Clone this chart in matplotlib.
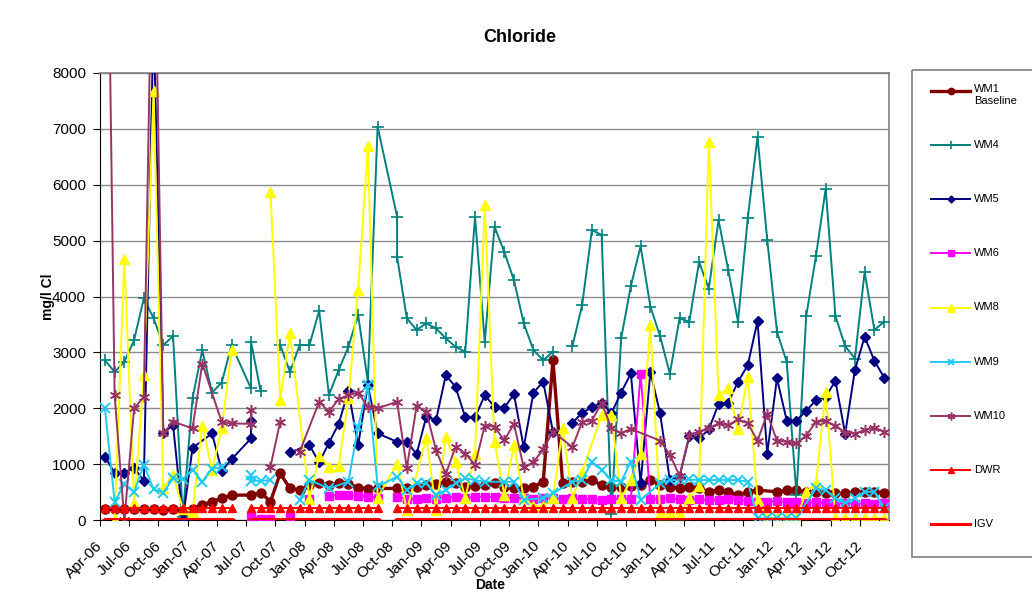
import numpy as np
import matplotlib
matplotlib.use("Agg")
import matplotlib.pyplot as plt
from matplotlib.patches import Rectangle

plt.rcParams['font.family'] = ['Liberation Sans', 'DejaVu Sans']

# None = no sample that month (line carries on), GAP = line break
GAP = np.nan

tick_labels = ['Apr-06', 'Jul-06', 'Oct-06', 'Jan-07', 'Apr-07', 'Jul-07', 'Oct-07',
               'Jan-08', 'Apr-08', 'Jul-08', 'Oct-08', 'Jan-09', 'Apr-09', 'Jul-09',
               'Oct-09', 'Jan-10', 'Apr-10', 'Jul-10', 'Oct-10', 'Jan-11', 'Apr-11',
               'Jul-11', 'Oct-11', 'Jan-12', 'Apr-12', 'Jul-12', 'Oct-12']

# monthly samples, index 0 = Apr-06 ... 80 = Dec-12
wm1 = [190, 190, 200, 190, 190, 190, 180, 190, 150, 200,
       270, 330, 390, 445, None, 445, 490, 330, 835, 565,
       535, 625, 665, 625, 665, 650, 580, 560, 565, None,
       565, 565, 595, 625, 640, 685, 655, 595, 610, 625,
       655, 595, 565, 565, 595, 685, 2860, 655, 685, 685,
       715, 625, 595, 595, 600, 620, 715, 625, 595, 565,
       595, 565, 505, 535, 505, 445, 505, 535, None, 505,
       535, 535, 505, 505, 475, 475, 475, 505, 505, 505,
       490]

wm4 = [2860, 2650, 2830, 3220, 3970, 3610, 3130, 3290, 60, 2180,
       3040, 2280, 2460, 3130, None, (2355, 3190), 2300, GAP, 3130, 2650,
       3130, 3130, 3745, 2240, 2680, 3100, 3670, 2475, 7040, None,
       (5430, 4710), 3610, 3400, 3520, 3430, 3250, 3100, 3010, 5430, 3190,
       5250, 4800, 4290, 3520, 3040, 2860, 3010, GAP, 3110, 3850,
       5190, 5100, 100, 3250, 4190, 4900, 3820, 3290, 2620, 3610,
       3550, 4620, 4140, 5370, 4470, 3550, 5400, 6860, 5010, 3370,
       2830, 450, 3650, 4720, 5930, 3650, 3110, 2890, 4440, 3400,
       3550]

wm5 = [1130, 845, 845, 935, 700, 9000, 1560, 1700, 0, 1290,
       None, 1550, 880, 1085, None, (1460, 1780), GAP, GAP, GAP, 1210,
       None, 1340, 1030, 1380, 1720, 2310, 1340, 2415, 1550, None,
       1400, 1400, 1180, 1850, 1790, 2590, 2385, 1835, 1835, 2235,
       2025, 2010, 2250, 1300, 2280, 2475, 1580, GAP, 1740, 1920,
       2015, 2100, 1910, 2280, 2625, 655, 2650, 1910, 715, 775,
       1500, 1460, 1620, 2075, 2100, 2475, 2770, 3560, 1190, 2535,
       1780, 1780, 1955, 2145, 2205, 2490, 1540, 2685, 3280, 2850,
       2550]

wm6 = [None, None, None, None, None, None, None, None, None, None,
       None, None, None, None, None, 80, 20, 20, GAP, 60,
       GAP, 380, GAP, 430, 450, 440, 430, 420, 400, GAP,
       420, 380, 380, 390, 380, 400, 420, 400, 410, 420,
       410, 390, 400, 390, 380, 390, 400, 380, 390, 370,
       380, 360, 370, 380, 380, 2620, 380, 380, 390, 370,
       360, 380, 350, 350, 380, 360, 340, 320, 330, 340,
       320, 330, 310, 320, 300, 300, 310, 290, 300, 290,
       300]

wm8 = [None, 0, 4680, 300, 2595, 7680, 565, 805, 200, 150,
       1690, 895, 1640, 3040, GAP, None, None, 5875, 2150, 3350,
       None, 380, 1150, 955, 970, 2175, 4125, 6690, 400, None,
       1010, 180, None, 1475, 180, 1490, 1045, 390, 1190, 5635,
       1400, 450, 1340, 390, 250, 250, 390, 1640, 390, 865,
       None, 1880, 1880, 390, 715, 1190, 3490, 100, 100, 100,
       390, 610, 6770, 2235, 2355, 1625, 2565, 360, 30, 30,
       30, 30, 505, 655, 2295, 30, 30, 30, 30, 30,
       30]

wm9 = [2000, 330, 640, 500, 990, 550, 490, 745, 735, 900,
       685, 920, 940, GAP, None, (805, 700), 700, 715, GAP, None,
       360, 715, None, 565, None, 685, 1670, 2415, 600, None,
       775, 535, 655, 655, 445, 535, 655, 745, 715, 685,
       None, 685, 685, 360, None, 390, 475, None, 685, 715,
       1045, 895, 715, 685, 1045, 360, None, 655, 715, 715,
       725, 715, 715, 715, 715, 715, 685, 30, 30, 30,
       30, 30, None, 565, 535, 390, 300, 390, 505, 505,
       210]

wm10 = [15000, 2235, 0, 2000, 2200, 12000, 1550, 1760, None, 1640,
        2800, None, 1750, 1730, None, (1720, 1970), GAP, 955, 1760, GAP,
        1220, None, 2115, 1940, 2160, 2235, 2280, 2025, 2000, None,
        2115, 930, 2040, 1940, 1250, 820, 1310, 1190, 985, 1690,
        1670, 1425, 1720, 940, 1035, 1265, 1580, None, 1305, 1760,
        1780, 2100, 1640, 1550, 1630, None, None, 1420, 1170, 790,
        1520, 1580, 1640, 1730, 1700, 1800, 1730, 1420, 1900, 1420,
        1400, 1370, 1510, 1760, 1770, 1690, 1565, 1545, 1610, 1655,
        1580]

dwr = [220, 220, 220, 220, 220, 220, 220, 220, 220, 220,
       220, 220, 220, 220, GAP, 220, 220, 220, 220, 220,
       220, 220, 220, 220, 220, 220, 220, 220, 220, GAP,
       220, 220, 220, 220, 220, 220, 220, 220, 220, 220,
       220, 220, 220, 220, 220, 220, 220, 220, 220, 220,
       220, 220, 220, 220, 220, 220, 220, 220, 220, 220,
       220, 220, 220, 220, 220, 220, 220, 220, 220, 220,
       220, 220, 220, 220, 220, 220, 220, 220, 220, 220,
       220]

igv = [25, 25, 25, 25, 25, 25, 25, 25, 25, 25,
       25, 25, 25, 25, GAP, 25, 25, 25, 25, 25,
       25, 25, 25, 25, 25, 25, 25, 25, 25, GAP,
       25, 25, 25, 25, 25, 25, 25, 25, 25, 25,
       25, 25, 25, 25, 25, 25, 25, 25, 25, 25,
       25, 25, 25, 25, 25, 25, 25, 25, 25, 25,
       25, 25, 25, 25, 25, 25, 25, 25, 25, 25,
       25, 25, 25, 25, 25, 25, 25, 25, 25, 25,
       25]


def series_xy(values):
    # samples sit mid-month
    xs, ys = [], []
    for i, v in enumerate(values):
        if v is None:
            continue
        for val in (v if isinstance(v, tuple) else (v,)):
            xs.append(i + 0.5)
            ys.append(val)
    return xs, ys


series = [
    ("WM1\nBaseline", wm1, dict(color='#800000', lw=2.4, marker='o', ms=6.5)),
    ("WM4", wm4, dict(color='#008080', lw=1.4, marker='+', ms=8, mew=1.2)),
    ("WM5", wm5, dict(color='#000080', lw=1.4, marker='D', ms=5)),
    ("WM6", wm6, dict(color='#FF00FF', lw=1.4, marker='s', ms=6)),
    ("WM8", wm8, dict(color='#FFFF00', lw=1.4, marker='^', ms=7.5)),
    ("WM9", wm9, dict(color='#1ECBF5', lw=1.4, marker='x', ms=6.5, mew=1.4)),
    ("WM10", wm10, dict(color='#993366', lw=1.4, marker=(6, 2, 0), ms=8, mew=1.1)),
    ("DWR", dwr, dict(color='#FF0000', lw=1.4, marker='^', ms=6)),
    ("IGV", igv, dict(color='#FF0000', lw=2.2, marker='_', ms=5)),
]

W, H = 1032, 607
fig = plt.figure(figsize=(W / 100, H / 100), dpi=100)
ax = fig.add_axes([100 / W, 1 - 520 / H, (889 - 100) / W, (520 - 73) / H])

for z, (name, vals, st) in enumerate(series):
    xs, ys = series_xy(vals)
    ax.plot(xs, ys, mec=st['color'], mfc=st['color'], zorder=3 + z, **st)

ax.set_xlim(0, 81)
ax.set_ylim(0, 8000)
ax.set_yticks(np.arange(0, 8001, 1000))
ax.set_xticks(np.arange(len(tick_labels)) * 3)
ax.set_xticklabels(tick_labels, rotation=45, ha='right', va='center',
                   rotation_mode='anchor', fontsize=11)
ax.tick_params(axis='y', direction='out', length=5, pad=5, labelsize=11)
ax.tick_params(axis='x', direction='out', length=4, pad=13)
ax.yaxis.grid(True, color='#8c8c8c', lw=1)
ax.set_axisbelow(True)
for side in ['left', 'bottom']:
    ax.spines[side].set_color('black')
for side in ['top', 'right']:
    ax.spines[side].set_color('#808080')
    ax.spines[side].set_linewidth(1.2)

fig.text(520 / W, 1 - 37 / H, 'Chloride', ha='center', va='center',
         fontsize=13, fontweight='bold')
fig.text(48 / W, 1 - 297 / H, 'mg/l Cl', rotation=90, ha='center', va='center',
         fontsize=10, fontweight='bold')
fig.text(490 / W, 1 - 585 / H, 'Date', ha='center', va='center',
         fontsize=10, fontweight='bold')

# legend box, drawn in pixel space
lax = fig.add_axes([0, 0, 1, 1], zorder=5)
lax.set_xlim(0, W)
lax.set_ylim(H, 0)
lax.axis('off')
lax.patch.set_alpha(0)
lax.add_patch(Rectangle((912, 70), 200, 487, fill=False, edgecolor='#808080', lw=1.2))
for i, (name, vals, st) in enumerate(series):
    y = 90.7 + 54.2 * i
    lax.plot([931, 970], [y, y], color=st['color'], lw=st['lw'])
    lax.plot([950.5], [y], linestyle='none', marker=st['marker'],
             ms=st['ms'] * 0.7, mew=st.get('mew', 1), color=st['color'])
    if '\n' in name:
        lax.text(974, y - 6.5, name, ha='left', va='top', fontsize=8, linespacing=1.25)
    else:
        lax.text(974, y, name, ha='left', va='center', fontsize=8)

fig.savefig('out.png', dpi=100)
